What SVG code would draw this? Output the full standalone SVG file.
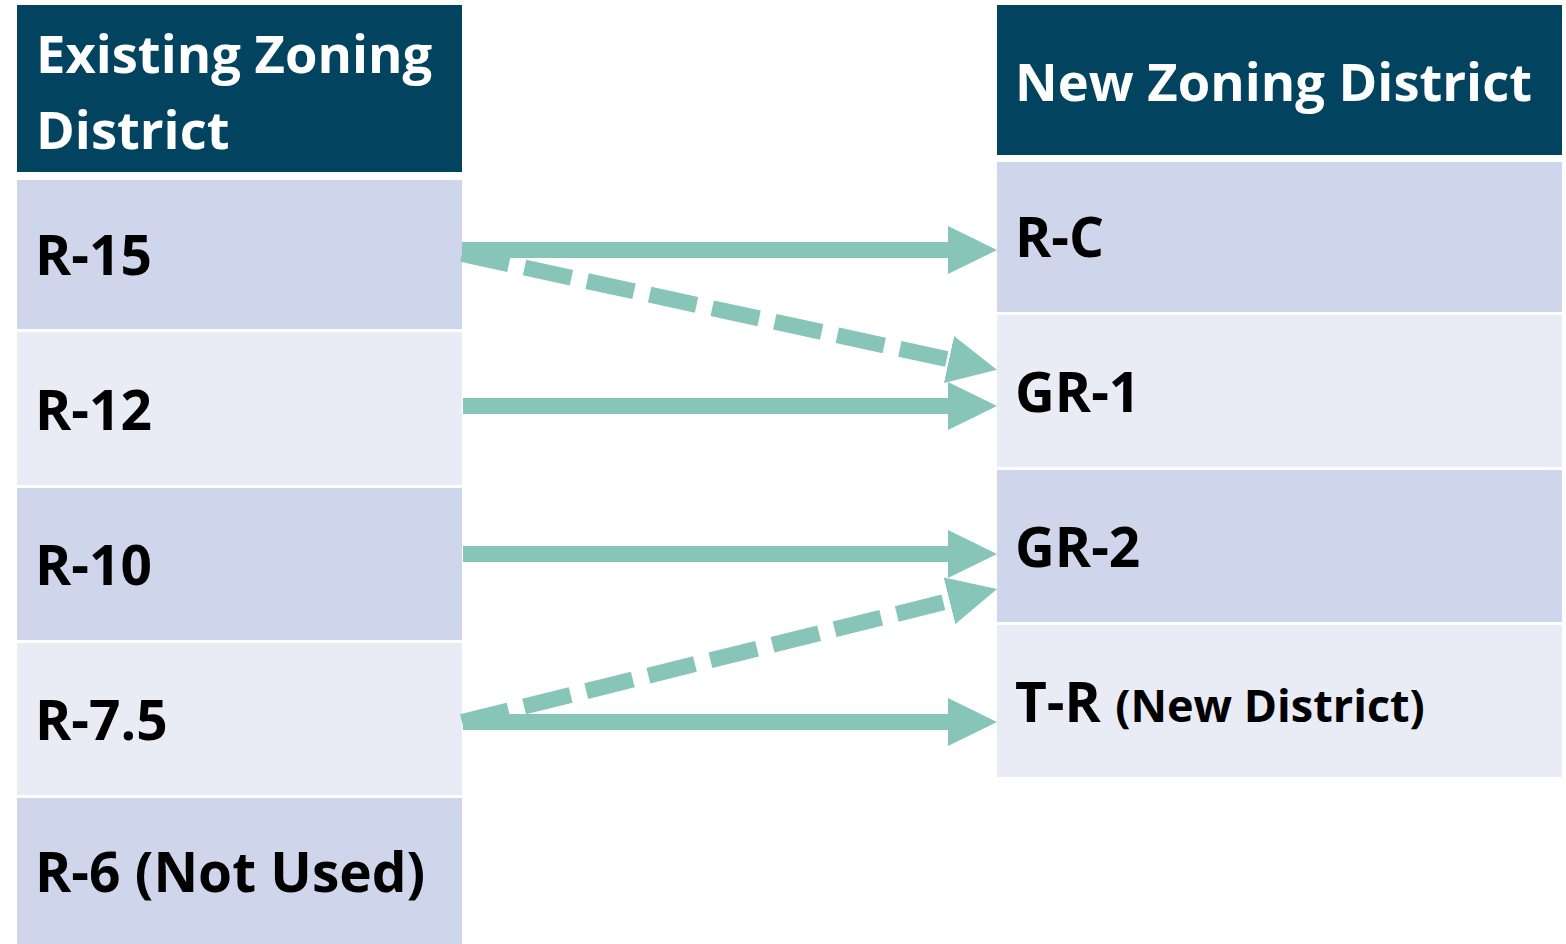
<svg xmlns="http://www.w3.org/2000/svg" width="1566" height="944" viewBox="0 0 1566 944">
<style>
.hdr{fill:#02435F}
.dk{fill:#CFD5EA}
.lt{fill:#E9EBF5}
.ht{font-family:"Open Sans","Noto Sans",sans-serif;font-weight:700;font-size:52.5px;fill:#FFFFFF}
.rt{font-family:"Open Sans","Noto Sans",sans-serif;font-weight:700;font-size:55px;fill:#000000}
.st{font-size:45px}
.conn{fill:none;stroke:#88C5B9;stroke-width:16;stroke-linecap:butt}
.dash{stroke-dasharray:48 16}
</style>
<defs>
<marker id="ah" markerUnits="userSpaceOnUse" viewBox="0 0 49 48" markerWidth="49" markerHeight="48" refX="0" refY="24" orient="auto">
<path d="M0,0 L49,24 L0,48 Z" fill="#88C5B9"/>
</marker>
</defs>
<rect width="1566" height="944" fill="#FFFFFF"/>
<g id="existing-header"><rect class="hdr" x="17" y="5" width="445" height="167"/><text class="ht" x="36" y="73">Existing Zoning</text><text class="ht" x="36" y="149">District</text></g>
<g id="r15"><rect class="dk" x="17" y="180" width="445" height="149"/><text class="rt" x="35" y="275">R-15</text></g>
<g id="r12"><rect class="lt" x="17" y="332" width="445" height="153"/><text class="rt" x="35" y="430">R-12</text></g>
<g id="r10"><rect class="dk" x="17" y="488" width="445" height="152"/><text class="rt" x="35" y="585">R-10</text></g>
<g id="r75"><rect class="lt" x="17" y="643" width="445" height="152"/><text class="rt" x="35" y="740">R-7.5</text></g>
<g id="r6"><rect class="dk" x="17" y="798" width="445" height="146"/><text class="rt" x="35" y="892">R-6 (Not Used)</text></g>
<g id="new-header"><rect class="hdr" x="997" y="5" width="565" height="150"/><text class="ht" x="1015" y="101">New Zoning District</text></g>
<g id="rc"><rect class="dk" x="997" y="162" width="565" height="150"/><text class="rt" x="1015" y="257">R-C</text></g>
<g id="gr1"><rect class="lt" x="997" y="315" width="565" height="152"/><text class="rt" x="1015" y="412">GR-1</text></g>
<g id="gr2"><rect class="dk" x="997" y="470" width="565" height="152"/><text class="rt" x="1015" y="567">GR-2</text></g>
<g id="tr"><rect class="lt" x="997" y="625" width="565" height="152"/><text class="rt" x="1015" y="722">T-R <tspan class="st">(New District)</tspan></text></g>
<g id="connectors">
<path class="conn" d="M462,250 H948" marker-end="url(#ah)"/>
<path class="conn" d="M463,406 H948" marker-end="url(#ah)"/>
<path class="conn" d="M463,554 H948" marker-end="url(#ah)"/>
<path class="conn" d="M463,722 H948" marker-end="url(#ah)"/>
<path class="conn dash" d="M462,254 L949,359.5" marker-end="url(#ah)"/>
<path class="conn dash" d="M462,722 L949.5,600.8" marker-end="url(#ah)"/>
</g>
</svg>
